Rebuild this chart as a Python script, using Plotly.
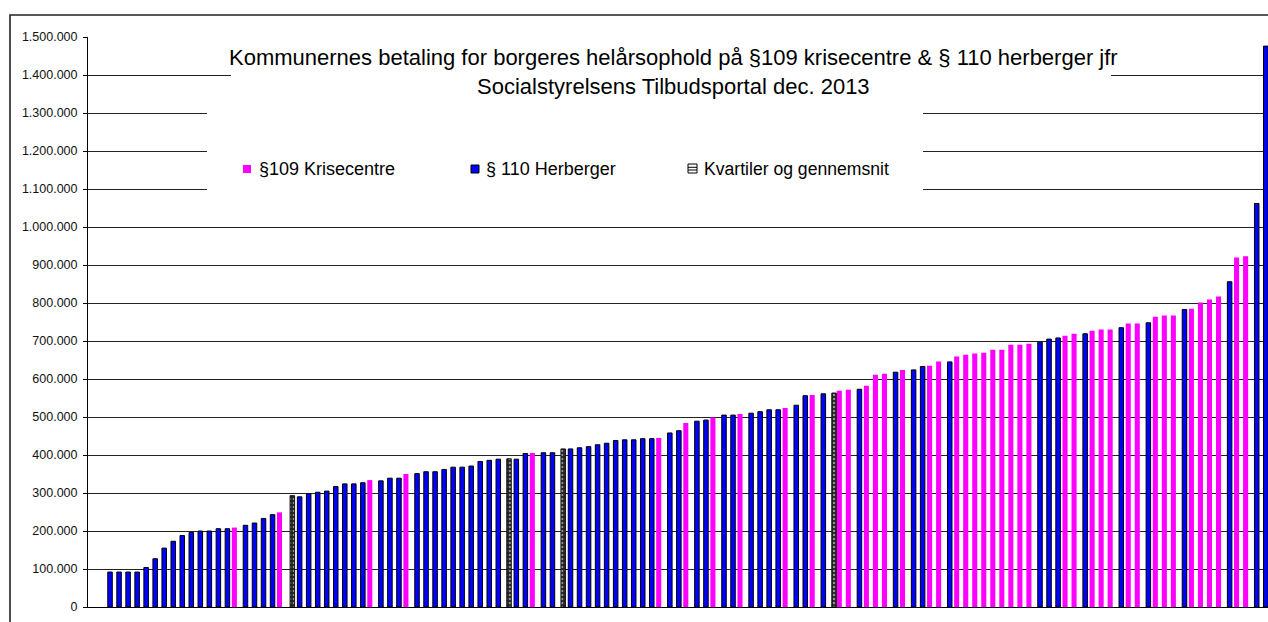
import plotly.graph_objects as go

# ---------------- data ----------------
values = [
    92000, 92000, 92000, 92000, 104000, 127000, 155000, 173000, 188000, 196000,
    200000, 200000, 206000, 206000, 209000, 215000, 221000, 233000, 243000, 249000,
    293000, 290000, 298000, 302000, 305000, 317000, 324000, 324000, 327000, 334000,
    332000, 339000, 339000, 350000, 351000, 356000, 356000, 362000, 368000, 368000,
    371000, 383000, 386000, 389000, 390000, 389000, 404000, 405000, 406000, 406000,
    416000, 416000, 419000, 422000, 427000, 431000, 438000, 440000, 440000, 443000,
    443000, 445000, 458000, 464000, 484000, 489000, 492000, 499000, 505000, 505000,
    508000, 510000, 514000, 519000, 519000, 524000, 531000, 556000, 558000, 561000,
    563000, 569000, 572000, 573000, 582000, 611000, 614000, 618000, 624000, 624000,
    633000, 635000, 646000, 645000, 659000, 664000, 667000, 669000, 677000, 677000,
    690000, 690000, 693000, 697000, 705000, 708000, 714000, 719000, 719000, 727000,
    730000, 730000, 735000, 746000, 746000, 748000, 764000, 767000, 767000, 783000,
    785000, 801000, 809000, 817000, 856000, 920000, 923000, 1062000, 1476000,
]
# K = §109 Krisecentre, H = § 110 Herberger, Q = Kvartiler og gennemsnit
kinds = list(
    "HHHHHHHHHH"
    "HHHHKHHHHK"
    "QHHHHHHHHK"
    "HHHKHHHHHH"
    "HHHHQHHKHH"
    "QHHHHHHHHH"
    "HKHHKHHKHH"
    "KHHHHKHHKH"
    "QKKHKKKHKH"
    "HKKHKKKKKK"
    "KKKHHHKKHK"
    "KKHKKHKKKH"
    "KKKKHKKHH"
)
series_names = {"K": "§109 Krisecentre", "H": "§ 110 Herberger", "Q": "Kvartiler og gennemsnit"}
title_lines = ["Kommunernes betaling for borgeres helårsophold på §109 krisecentre & § 110 herberger jfr",
               "Socialstyrelsens Tilbudsportal dec. 2013"]
y_max = 1500000
y_step = 100000

# ---------------- layout helpers ----------------
W, H = 1268, 622
ML, MR, MT, MB = 88, 0, 37, 15
X_RANGE = [-2.44, 128.25]
FONT = "Arial, 'Liberation Sans', sans-serif"


def px_x(p):
    return (p - ML) / (W - ML - MR)


def px_y(p):
    return (H - MB - p) / (H - MT - MB)


idx = list(range(len(values)))


def series(kind):
    return [v if k == kind else None for v, k in zip(values, kinds)]


fig = go.Figure()
fig.add_bar(x=idx, y=series("K"), name=series_names["K"], width=0.56, offset=-0.51,
            marker=dict(color="#FF00FF", line=dict(width=0)), showlegend=False)
fig.add_bar(x=idx, y=series("H"), name=series_names["H"], width=0.5, offset=-0.25,
            marker=dict(color="#0000FF", line=dict(color="black", width=1)), showlegend=False)
fig.add_bar(x=idx, y=series("Q"), name=series_names["Q"], width=0.5, offset=-0.06,
            marker=dict(color="#222", line=dict(color="#111", width=1),
                        pattern=dict(shape=".", fgcolor="white", bgcolor="#222", size=4, solidity=0.35)),
            showlegend=False)

shapes = []
# outer chart border
shapes.append(dict(type="rect", xref="paper", yref="paper",
                   x0=px_x(10), x1=px_x(1290), y0=px_y(640), y1=px_y(15),
                   line=dict(color="#222", width=1.6), fillcolor="rgba(0,0,0,0)", layer="above"))
# title background box
shapes.append(dict(type="rect", xref="paper", yref="paper",
                   x0=px_x(231), x1=px_x(1111), y0=px_y(100), y1=px_y(44),
                   line=dict(width=0), fillcolor="white", layer="above"))
# legend background box
shapes.append(dict(type="rect", xref="paper", yref="paper",
                   x0=px_x(207), x1=px_x(923), y0=px_y(205), y1=px_y(100),
                   line=dict(width=0), fillcolor="white", layer="above"))
# legend swatches
shapes.append(dict(type="rect", xref="paper", yref="paper",
                   x0=px_x(243), x1=px_x(251), y0=px_y(173), y1=px_y(165),
                   line=dict(width=0), fillcolor="#FF00FF", layer="above"))
shapes.append(dict(type="rect", xref="paper", yref="paper",
                   x0=px_x(471), x1=px_x(479), y0=px_y(173), y1=px_y(165),
                   line=dict(color="black", width=1), fillcolor="#0000FF", layer="above"))
shapes.append(dict(type="rect", xref="paper", yref="paper",
                   x0=px_x(688), x1=px_x(697), y0=px_y(173), y1=px_y(164),
                   line=dict(color="black", width=1), fillcolor="white", layer="above"))
for yy in (167.3, 170):
    shapes.append(dict(type="line", xref="paper", yref="paper",
                       x0=px_x(688), x1=px_x(697), y0=px_y(yy), y1=px_y(yy),
                       line=dict(color="black", width=1), layer="above"))

annotations = [
    dict(text="<br>".join(title_lines), xref="paper", yref="paper",
         x=px_x(673), y=px_y(72), xanchor="center", yanchor="middle", showarrow=False,
         font=dict(family=FONT, size=22, color="black"), align="center"),
    dict(text=series_names["K"], xref="paper", yref="paper", x=px_x(257), y=px_y(169),
         xanchor="left", yanchor="middle", showarrow=False, font=dict(family=FONT, size=18, color="black")),
    dict(text=series_names["H"], xref="paper", yref="paper", x=px_x(484), y=px_y(169),
         xanchor="left", yanchor="middle", showarrow=False, font=dict(family=FONT, size=18, color="black")),
    dict(text=series_names["Q"], xref="paper", yref="paper", x=px_x(702), y=px_y(169),
         xanchor="left", yanchor="middle", showarrow=False, font=dict(family=FONT, size=17.6, color="black")),
]

fig.update_layout(
    width=W, height=H, autosize=False,
    margin=dict(l=ML, r=MR, t=MT, b=MB, pad=0),
    barmode="overlay",
    paper_bgcolor="white", plot_bgcolor="white",
    separators=",.",
    font=dict(family=FONT, size=12, color="black"),
    shapes=shapes, annotations=annotations,
    xaxis=dict(range=X_RANGE, showgrid=False, zeroline=False, showticklabels=False, ticks="",
               showline=True, linecolor="black", linewidth=1, fixedrange=True),
    yaxis=dict(range=[0, y_max], dtick=y_step, tick0=0, tickformat=",d",
               showgrid=True, gridcolor="#222", gridwidth=1, zeroline=False,
               showline=True, linecolor="black", linewidth=1,
               ticks="outside", ticklen=4, tickcolor="black", ticklabelstandoff=3,
               tickfont=dict(family=FONT, size=12.5, color="#111"), fixedrange=True),
)

fig.write_html("out.html")
